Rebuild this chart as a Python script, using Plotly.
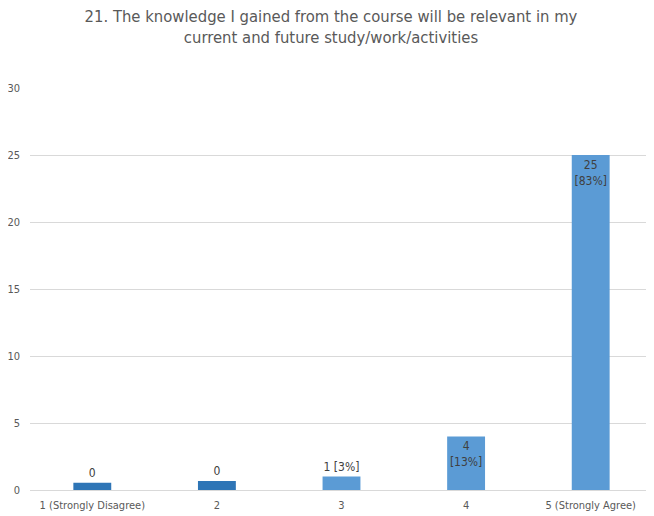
import plotly.graph_objects as go

categories = ["1 (Strongly Disagree)", "2", "3", "4", "5 (Strongly Agree)"]
counts = [0, 0, 1, 4, 25]
drawn_heights = [0.55, 0.67, 1, 4, 25]
bar_colors = ["#2E75B6", "#2E75B6", "#5B9BD5", "#5B9BD5", "#5B9BD5"]
y_ticks = [0, 5, 10, 15, 20, 25, 30]

total = sum(counts)
labels = []
positions = []
for c in counts:
    if c == 0:
        labels.append("0")
        positions.append("outside")
    elif c == 1:
        labels.append(f"{c} [{round(100 * c / total)}%]")
        positions.append("outside")
    else:
        labels.append(f"{c}<br>[{round(100 * c / total)}%]")
        positions.append("inside")

FONT = "DejaVu Sans Condensed, Liberation Sans Narrow, Arial Narrow, sans-serif"

fig = go.Figure(
    go.Bar(
        x=categories,
        y=drawn_heights,
        marker=dict(color=bar_colors, line=dict(width=0)),
        text=labels,
        textposition=positions,
        insidetextanchor="end",
        textangle=0,
        constraintext="none",
        cliponaxis=False,
        textfont=dict(family=FONT, size=12, color="#404040"),
        hoverinfo="skip",
    )
)

fig.update_layout(
    width=646,
    height=508,
    margin=dict(l=21.5, r=0.5, t=80, b=26),
    paper_bgcolor="white",
    plot_bgcolor="white",
    bargap=0.696,
    showlegend=False,
    title=dict(
        text="21. The knowledge I gained from the course will be relevant in my<br>current and future study/work/activities",
        x=0.5,
        xanchor="center",
        xref="container",
        yref="container",
        y=0.973,
        yanchor="middle",
        font=dict(family=FONT, size=16.5, color="#595959"),
    ),
    font=dict(family=FONT, color="#595959", size=11),
)

fig.update_yaxes(
    range=[0, 30],
    tickvals=y_ticks,
    showgrid=True,
    gridcolor="#D9D9D9",
    gridwidth=1,
    zeroline=False,
    showline=False,
    ticks="",
    ticklabelstandoff=9,
    tickfont=dict(family=FONT, size=11, color="#595959"),
    fixedrange=True,
)
fig.update_xaxes(
    showline=True,
    linecolor="#D9D9D9",
    linewidth=1,
    ticks="",
    ticklabelstandoff=5,
    tickfont=dict(family=FONT, size=11, color="#595959"),
    fixedrange=True,
)

fig.write_html("out.html")
